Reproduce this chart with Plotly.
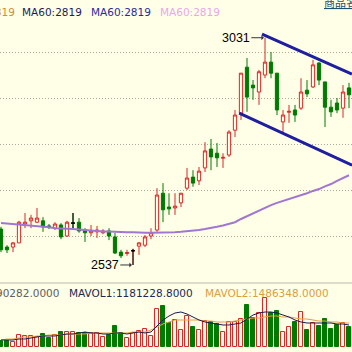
import plotly.graph_objects as go

# ---------------- data ----------------
idx = list(range(59))
opens = [2615,2576,2576,2585,2626,2633,2630,2633,2622,2617,
         2624,2600,2628,2630,2613,2607,2609,2607,2611,2598,
         2565,2562,2568,2578,2580,2600,2613,2693,2663,2661,
         2672,2704,2728,2720,2748,2789,2780,2769,2776,2830,
         2867,2967,2928,2913,2950,2978,2954,2848,2869,2874,
         2878,2917,2924,2976,2935,2880,2889,2878,2922]
highs = [2620,2580,2587,2633,2650,2646,2661,2641,2626,2630,
         2628,2633,2650,2639,2617,2624,2622,2615,2617,2607,
         2570,2570,2572,2587,2602,2617,2704,2715,2693,2693,
         2693,2748,2743,2750,2804,2811,2802,2780,2830,2874,
         2954,2987,2939,2961,3031,3000,2954,2874,2885,2885,
         2943,2939,2983,2978,2935,2896,2900,2928,2933]
lows = [2565,2563,2565,2585,2617,2617,2628,2609,2615,2613,
        2593,2598,2615,2607,2587,2600,2596,2604,2591,2561,
        2552,2557,2537,2559,2576,2593,2609,2630,2646,2646,
        2663,2700,2707,2711,2739,2743,2750,2748,2772,2815,
        2852,2870,2896,2885,2943,2943,2863,2826,2846,2848,
        2874,2902,2922,2928,2837,2859,2867,2857,2878]
closes = [2570,2570,2585,2630,2630,2639,2639,2620,2620,2626,
          2598,2630,2628,2611,2607,2611,2613,2611,2600,2563,
          2557,2564,2568,2585,2598,2607,2689,2657,2659,2665,
          2693,2726,2715,2741,2785,2772,2770,2771,2826,2863,
          2954,2902,2922,2957,2978,2954,2874,2863,2871,2863,
          2913,2909,2972,2939,2880,2870,2874,2913,2907]
doji_idx = [12, 22]

ma60 = [2628,2627,2626,2625,2624,2622,2621,2620,2619,2617,
        2617,2616,2615,2614,2613,2611,2611,2610,2610,2609,
        2609,2608,2608,2607,2607,2607,2607,2607,2608,2608,
        2609,2610,2611,2613,2615,2617,2620,2623,2626,2630,
        2637,2643,2650,2656,2662,2667,2672,2676,2680,2685,
        2689,2693,2698,2702,2708,2713,2720,2726,2732]

chan_upper_x = [43.5, 58.5]
chan_upper_y = [3039, 2952]
chan_lower_x = [39.7, 58.5]
chan_lower_y = [2867, 2754]

# volume (thousand shares)
vol = [330,330,275,660,605,605,550,715,495,660,
       825,825,825,770,770,770,770,550,660,1155,
       770,495,770,880,990,605,2090,2255,1320,1485,
       935,1705,1100,935,1430,1375,1265,825,1375,1375,
       1540,2310,1595,1870,2695,1870,1980,825,1100,1375,
       1925,935,1320,1155,1540,990,1210,1320,1100]
mavol1 = [385,385,385,440,440,495,550,605,605,605,
          660,715,715,770,825,770,770,715,715,770,
          770,715,770,825,770,825,1155,1485,1705,1870,
          1925,1815,1650,1485,1375,1320,1265,1210,1210,1265,
          1320,1540,1760,1870,1925,1925,1870,1760,1650,1485,
          1375,1320,1320,1320,1320,1320,1265,1265,1210]
mavol2 = [385,440,440,495,550,550,605,605,660,660,
          660,715,715,715,715,770,770,770,770,770,
          770,770,825,825,825,935,1100,1265,1375,1485,
          1485,1485,1485,1485,1430,1430,1375,1375,1375,1430,
          1485,1540,1595,1595,1650,1705,1705,1650,1650,1595,
          1540,1540,1485,1430,1430,1375,1375,1320,1320]

# ---------------- styling ----------------
BG = '#FFFFE8'
RED = '#D82828'
GREEN = '#007A00'
W, H = 352, 352
SEP = 283  # px from top: separator between price and volume panes

fig = go.Figure()

fig.add_trace(go.Candlestick(
    x=idx, open=opens, high=highs, low=lows, close=closes,
    increasing=dict(line=dict(color=RED, width=1), fillcolor=BG),
    decreasing=dict(line=dict(color=GREEN, width=1), fillcolor=GREEN),
    whiskerwidth=0, xaxis='x', yaxis='y', hoverinfo='skip'))

fig.add_trace(go.Candlestick(
    x=doji_idx,
    open=[opens[i] for i in doji_idx], high=[highs[i] for i in doji_idx],
    low=[lows[i] for i in doji_idx], close=[closes[i] for i in doji_idx],
    increasing=dict(line=dict(color='#000000', width=1), fillcolor='#000000'),
    decreasing=dict(line=dict(color='#000000', width=1), fillcolor='#000000'),
    whiskerwidth=0, xaxis='x', yaxis='y', hoverinfo='skip'))

fig.add_trace(go.Scatter(x=idx, y=ma60, mode='lines',
                         line=dict(color='rgb(160,118,212)', width=2),
                         xaxis='x', yaxis='y', hoverinfo='skip'))

for cx, cy in ((chan_upper_x, chan_upper_y), (chan_lower_x, chan_lower_y)):
    fig.add_trace(go.Scatter(x=cx, y=cy, mode='lines',
                             line=dict(color='#1E1EA0', width=3),
                             xaxis='x', yaxis='y', hoverinfo='skip'))

up = [c >= o for o, c in zip(opens, closes)]
fig.add_trace(go.Bar(
    x=idx, y=vol, width=0.75,
    marker=dict(color=[BG if u else GREEN for u in up],
                line=dict(color=[RED if u else GREEN for u in up], width=1)),
    xaxis='x2', yaxis='y2', hoverinfo='skip'))
fig.add_trace(go.Scatter(x=idx, y=mavol2, mode='lines',
                         line=dict(color='#E0A040', width=1),
                         xaxis='x2', yaxis='y2', hoverinfo='skip'))
fig.add_trace(go.Scatter(x=idx, y=mavol1, mode='lines',
                         line=dict(color='#1A1A50', width=1),
                         xaxis='x2', yaxis='y2', hoverinfo='skip'))

xr = [-1/6, 58.5]
pane_bot = (H - SEP) / H
# price axis: 100 points per 46 px, 3000 at y=52 px
px_per_pt = 0.46
ytop = 3000 + 52 / px_per_pt
ybot = 3000 - (SEP - 52) / px_per_pt
# volume axis: 55 (thousand) per px, zero at y=347 px
vtop = (347 - SEP) * 55
vbot = -(H - 347) * 55

fig.update_layout(
    width=W, height=H, margin=dict(l=0, r=0, t=0, b=0),
    paper_bgcolor=BG, plot_bgcolor=BG, showlegend=False,
    boxgap=0.22,
    xaxis=dict(domain=[0, 1], range=xr, visible=False, anchor='y',
               rangeslider=dict(visible=False)),
    xaxis2=dict(domain=[0, 1], range=xr, visible=False, anchor='y2'),
    yaxis=dict(domain=[pane_bot, 1], range=[ybot, ytop],
               tickvals=[2600, 2700, 2800, 2900, 3000],
               showticklabels=False, ticks='', zeroline=False,
               showgrid=True, gridcolor='#A8A8A0', griddash='1px,2px', gridwidth=1),
    yaxis2=dict(domain=[0, pane_bot], range=[vbot, vtop], visible=False),
    bargap=0,
)

# separator line
fig.add_shape(type='line', xref='paper', yref='paper', x0=0, x1=1,
              y0=pane_bot, y1=pane_bot, line=dict(color='#B8B8B0', width=1))

FONT = 'DejaVu Sans'

def label(txt, x_px, y_px, color, anchor='left', size=10.5, family=FONT):
    fig.add_annotation(text=txt, xref='paper', yref='paper',
                       x=x_px / W, y=1 - y_px / H, xanchor=anchor, yanchor='middle',
                       showarrow=False, font=dict(family=family, size=size, color=color))

label('MA60:2819', 17, 12, '#D09030', anchor='right')
label('MA60:2819', 20, 12, '#1C1C5C')
label('MA60:2819', 89, 12, '#2A2A9A')
label('MA60:2819', 158, 12, '#E8A8E8')
label('<u>商品名称</u>', 322, 2, '#1E5070', size=11, family='Noto Sans CJK SC')

label('VOL:1190282.0000', 61, 293, '#606060', anchor='right')
label('MAVOL1:1181228.8000', 67, 293, '#1C2A50')
label('MAVOL2:1486348.0000', 203, 293, '#D9A040')

# high / low markers
for tx, ty, axo in ((43.8, 3031, -28), (21.8, 2537, -27)):
    fig.add_annotation(x=tx, y=ty, xref='x', yref='y', text=str(ty),
                       showarrow=True, ax=axo, ay=0, arrowhead=1, arrowsize=0.8,
                       arrowwidth=1, arrowcolor='#333333',
                       font=dict(family='Liberation Sans', size=12.5, color='#000000'))

fig.write_html('out.html')
